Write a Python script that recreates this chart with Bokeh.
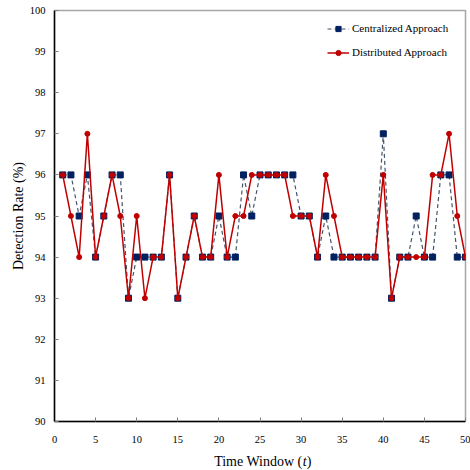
from bokeh.plotting import figure
from bokeh.layouts import column
from bokeh.models import Range1d, FixedTicker, Legend, LegendItem, ColumnDataSource
from bokeh.core.properties import value
from bokeh.embed import file_html
from bokeh.resources import INLINE

t = list(range(1, 51))
centralized = [96, 96, 95, 96, 94, 95, 96, 96, 93, 94,
               94, 94, 94, 96, 93, 94, 95, 94, 94, 95,
               94, 94, 96, 95, 96, 96, 96, 96, 96, 95,
               95, 94, 95, 94, 94, 94, 94, 94, 94, 97,
               93, 94, 94, 95, 94, 94, 96, 96, 94, 94]
distributed = [96, 95, 94, 97, 94, 95, 96, 95, 93, 95,
               93, 94, 94, 96, 93, 94, 95, 94, 94, 96,
               94, 95, 95, 96, 96, 96, 96, 96, 95, 95,
               95, 94, 96, 95, 94, 94, 94, 94, 94, 96,
               93, 94, 94, 94, 94, 96, 96, 97, 95, 94]
x_ticks = [0, 5, 10, 15, 20, 25, 30, 35, 40, 45, 50]
y_ticks = [90, 91, 92, 93, 94, 95, 96, 97, 98, 99, 100]
x_label_parts = ["Time Window (", "t", ")"]

FONT = "Liberation Serif"

p = figure(width=470, height=450, output_backend="svg", toolbar_location=None,
           x_range=Range1d(0, 50), y_range=Range1d(90, 100),
           min_border_left=54, min_border_right=5, min_border_top=10, min_border_bottom=29)
p.background_fill_color = "white"
p.border_fill_color = "white"
p.outline_line_color = "#a6a6a6"
p.outline_line_width = 1.5
p.xgrid.visible = False
p.ygrid.visible = False

for ax in (p.xaxis[0], p.yaxis[0]):
    ax.axis_line_color = "black"
    ax.axis_line_width = 1.5
    ax.major_tick_in = 4
    ax.major_tick_out = 0
    ax.minor_tick_in = 0
    ax.minor_tick_out = 0
    ax.major_tick_line_color = "#808080"
    ax.major_label_text_font = FONT
    ax.major_label_text_font_size = "10.5px"
    ax.major_label_text_color = "black"
    ax.axis_label_text_font = FONT
    ax.axis_label_text_font_size = "14px"
    ax.axis_label_text_font_style = "normal"
    ax.axis_label_text_color = "black"

p.xaxis[0].ticker = FixedTicker(ticks=x_ticks)
p.yaxis[0].ticker = FixedTicker(ticks=y_ticks)
p.xaxis[0].major_label_standoff = 14
p.yaxis[0].major_label_standoff = 9
p.yaxis[0].axis_label = "Detection Rate (%)"
p.yaxis[0].axis_label_standoff = 1

c_line = p.line(t, centralized, line_color="#44546a", line_width=1.2, line_dash="4 3")
c_pts = p.scatter(t, centralized, marker="square", size=6, fill_color="#002060", line_color="#002060")
d_line = p.line(t, distributed, line_color="#c00000", line_width=1.5)
d_pts = p.scatter(t, distributed, marker="circle", size=5, fill_color="#c00000", line_color="#c00000")

legend = Legend(items=[LegendItem(label="Centralized Approach", renderers=[c_line, c_pts]),
                       LegendItem(label="Distributed Approach", renderers=[d_line, d_pts])],
                location=(273, 359), border_line_color=None, background_fill_alpha=0,
                label_text_font=FONT, label_text_font_size="11px", label_text_color="black",
                glyph_width=22, label_standoff=3, spacing=4, padding=6, margin=0,
                label_height=20, glyph_height=13)
p.add_layout(legend)

# x-axis title strip (allows italic t)
q = figure(width=470, height=20, output_backend="svg", toolbar_location=None,
           x_range=Range1d(0, 50), y_range=Range1d(0, 1),
           min_border_left=54, min_border_right=5, min_border_top=0, min_border_bottom=0)
q.axis.visible = False
q.grid.visible = False
q.outline_line_color = None
q.background_fill_color = "white"
q.border_fill_color = "white"

def px2x(px):
    return (px - 54) / 8.22

src = ColumnDataSource(dict(x=[px2x(302), px2x(302.3), px2x(306.3)], y=[0.45, 0.45, 0.45],
                            txt=x_label_parts, align=["right", "left", "left"],
                            style=["normal", "italic", "normal"]))
q.text(x="x", y="y", text="txt", source=src, text_align="align", text_font_style="style",
       text_font=value(FONT), text_font_size="14px", text_color="black",
       text_baseline="alphabetic")

layout = column(p, q, spacing=0)
open("out.html", "w").write(file_html(layout, INLINE))
